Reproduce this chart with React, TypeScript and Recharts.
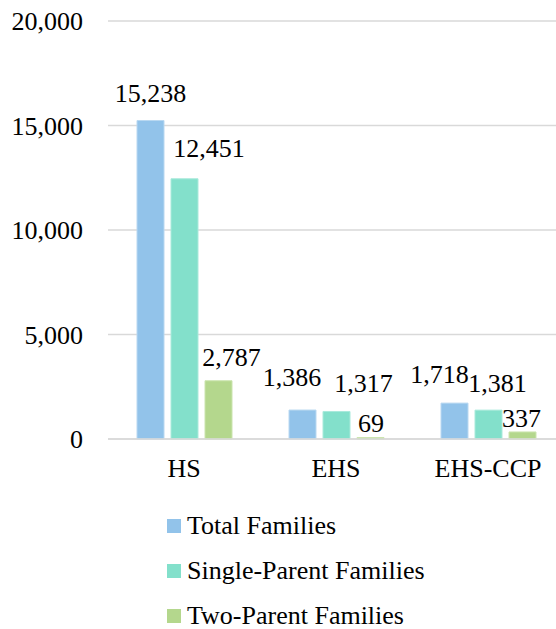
import React from "react";
import { BarChart, Bar, XAxis, YAxis, CartesianGrid, Legend, LabelList } from "recharts";

const categories = ["HS", "EHS", "EHS-CCP"];
const totalFamilies = [15238, 1386, 1718];
const singleParent = [12451, 1317, 1381];
const twoParent = [2787, 69, 337];
const yTicks = [0, 5000, 10000, 15000, 20000];

const seriesNames = ["Total Families", "Single-Parent Families", "Two-Parent Families"];
const seriesKeys = ["total", "single", "two"];
const seriesColors = ["#92C3EA", "#83E0CB", "#B4D78D"];
const seriesStrokes = ["#B9D8F1", "#A9EADB", "#CBE4AE"];

// label layout nudges (Excel-style auto placement)
const labelDx = [
  [0, -10.5, -15],
  [24.5, 27, 9],
  [13, 0.5, -1],
];
const labelRise = [
  [19, 24, 20],
  [22, 19, 18],
  [15, 6, 5],
];

const data = categories.map((c, i) => ({
  name: c,
  total: totalFamilies[i],
  single: singleParent[i],
  two: twoParent[i],
}));

const FONT = "Liberation Serif, Times New Roman, serif";
const fmt = (v: number) => Number(v).toLocaleString("en-US");

const makeLabel = (s: number) => (props: any) => {
  const { x, y, width, value, index } = props;
  const cx = Number(x) + Number(width) / 2 + labelDx[s][index];
  const ty = Number(y) - labelRise[s][index];
  return (
    <text x={cx} y={ty} textAnchor="middle" style={{ fontFamily: FONT }} fontSize={26} fill="#000">
      {fmt(value)}
    </text>
  );
};

const LegendContent = () => (
  <div style={{ paddingLeft: 167, paddingTop: 4, fontFamily: FONT, fontSize: 26, color: "#000" }}>
    {seriesNames.map((n, i) => (
      <div key={n} style={{ height: 45, display: "flex", alignItems: "center" }}>
        <span style={{ display: "inline-block", width: 14, height: 14, background: seriesColors[i], marginRight: 6 }} />
        <span style={{ lineHeight: "45px", fontFamily: FONT }}>{n}</span>
      </div>
    ))}
  </div>
);

export default function App() {
  return (
    <div style={{ position: "absolute", left: 0, top: 0, width: 556, height: 629, overflow: "hidden", background: "#fff", fontFamily: FONT }}>
      <BarChart
        width={564}
        height={629}
        data={data}
        margin={{ top: 21, right: 0, left: 0, bottom: 0 }}
        barCategoryGap={29}
        barGap={7}
        style={{ fontFamily: FONT }}
      >
        <CartesianGrid vertical={false} stroke="#D9D9D9" strokeWidth={1.3} />
        <XAxis
          dataKey="name"
          height={60}
          tickLine={false}
          tickSize={0}
          tickMargin={20}
          axisLine={{ stroke: "#D9D9D9", strokeWidth: 1.3 }}
          tick={{ fontFamily: FONT, fontSize: 26, fill: "#000" }}
        />
        <YAxis
          width={108}
          domain={[0, 20000]}
          ticks={yTicks}
          tickFormatter={fmt}
          axisLine={false}
          tickLine={false}
          tickSize={0}
          tickMargin={25}
          tick={{ fontFamily: FONT, fontSize: 26, fill: "#000" }}
        />
        <Legend verticalAlign="bottom" align="left" height={130} content={<LegendContent />} />
        {seriesKeys.map((k, s) => (
          <Bar
            key={k}
            dataKey={k}
            name={seriesNames[s]}
            fill={seriesColors[s]}
            stroke={seriesStrokes[s]}
            strokeWidth={1}
            isAnimationActive={false}
          >
            <LabelList dataKey={k} content={makeLabel(s)} />
          </Bar>
        ))}
      </BarChart>
    </div>
  );
}
